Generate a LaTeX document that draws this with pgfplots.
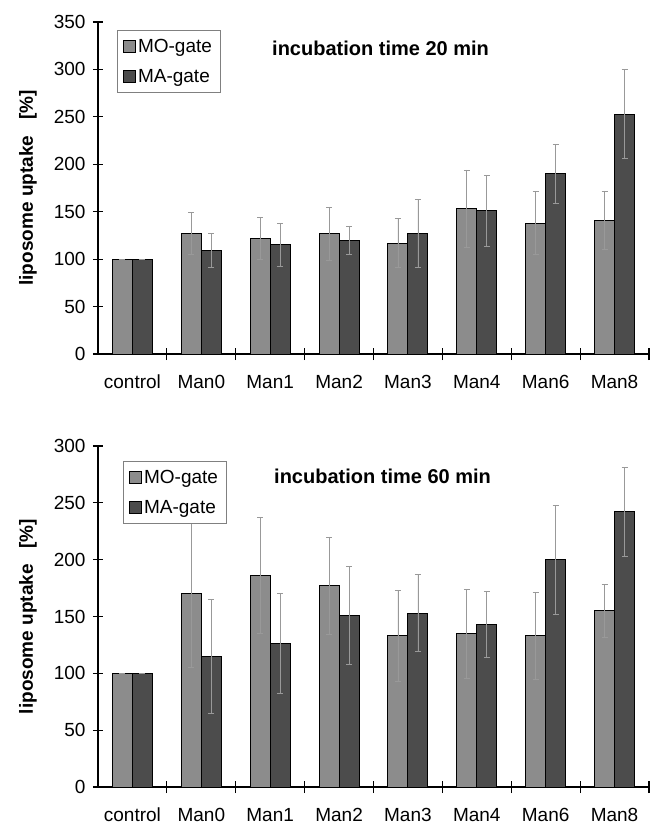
\documentclass[border=0pt]{standalone}
\usepackage{pgfplots}
\pgfplotsset{compat=1.18}
\usepackage{pgfplotstable}
\usepackage{fontspec}
\setmainfont{Liberation Sans}
\definecolor{mocol}{HTML}{8C8C8C}
\definecolor{macol}{HTML}{4C4C4C}
\pgfplotstableread{
x mo moe ma mae
0 100 0 100 0
1 127 22 109 18
2 122 22 115 23
3 127 28 120 15
4 117 26 127 36
5 153 41 151 37
6 138 33 190 31
7 141 31 253 47
}\tabA
\pgfplotstableread{
x mo moe ma mae
0 100 0 100 0
1 170 65 115 50
2 186 51 126 44
3 177 43 151 43
4 133 40 153 34
5 135 39 143 29
6 133 38 200 48
7 155 23 242 39
}\tabB
\pgfplotsset{
  mystyle/.style={
    scale only axis, width=551pt,
    xmin=-0.5, xmax=7.5, ymin=0,
    axis lines*=left,
    axis line style={black, line width=1.5pt},
    ybar=0pt, bar width=20pt,
    xtick={0,...,7},
    xticklabels={control,Man0,Man1,Man2,Man3,Man4,Man6,Man8},
    major x tick style={draw=none},
    minor xtick={0.5,1.5,...,7.5},
    minor tick length=12pt,
    major tick length=10pt,
    tick align=center,
    tick style={black, line width=1.2pt},
    ytick distance=50,
    font=\fontsize{19}{23}\selectfont,
    /pgf/number format/assume math mode=true,
    xticklabel style={yshift=-12pt, text height=14pt, text depth=4pt},
    yticklabel style={xshift=-4pt},
    ylabel={\bfseries liposome uptake~~~[\%]},
    ylabel style={font=\fontsize{19}{23}\selectfont, yshift=10pt},
    legend cell align=left,
    legend style={draw=black!50, line width=0.6pt, inner xsep=6pt, inner ysep=7pt, row sep=11pt,
      font=\fontsize{19}{23}\selectfont, fill=white},
    legend image code/.code={\draw[#1, line width=1pt] (0pt,-6pt) rectangle (12pt,6pt);},
    every axis plot/.append style={draw=black, line width=1pt},
    error bars/error bar style={black!40, line width=0.7pt},
    error bars/error mark options={rotate=90, mark size=3pt, black!40, line width=0.7pt},
  }
}
\begin{document}
\begin{tikzpicture}
\path[use as bounding box] (0,0) rectangle (655pt,-836pt);
\begin{axis}[mystyle, at={(98pt,-354pt)}, anchor=south west, height=332pt, ymax=350,
  legend style={at={(0.034,0.976)}, anchor=north west}]
\addplot[fill=mocol, error bars/.cd, y dir=both, y explicit] table[x=x, y=mo, y error=moe] {\tabA};
\addplot[fill=macol, error bars/.cd, y dir=both, y explicit] table[x=x, y=ma, y error=mae] {\tabA};
\legend{MO-gate, MA-gate}
\end{axis}
\node[anchor=west, inner sep=0pt, font=\bfseries\fontsize{20}{24}\selectfont] at (272pt,-48pt) {incubation time 20 min};
\begin{axis}[mystyle, at={(98pt,-787pt)}, anchor=south west, height=341pt, ymax=300,
  legend style={at={(0.045,0.956)}, anchor=north west}]
\addplot[fill=mocol, error bars/.cd, y dir=both, y explicit] table[x=x, y=mo, y error=moe] {\tabB};
\addplot[fill=macol, error bars/.cd, y dir=both, y explicit] table[x=x, y=ma, y error=mae] {\tabB};
\legend{MO-gate, MA-gate}
\end{axis}
\node[anchor=west, inner sep=0pt, font=\bfseries\fontsize{20}{24}\selectfont] at (274pt,-476pt) {incubation time 60 min};
\end{tikzpicture}
\end{document}
